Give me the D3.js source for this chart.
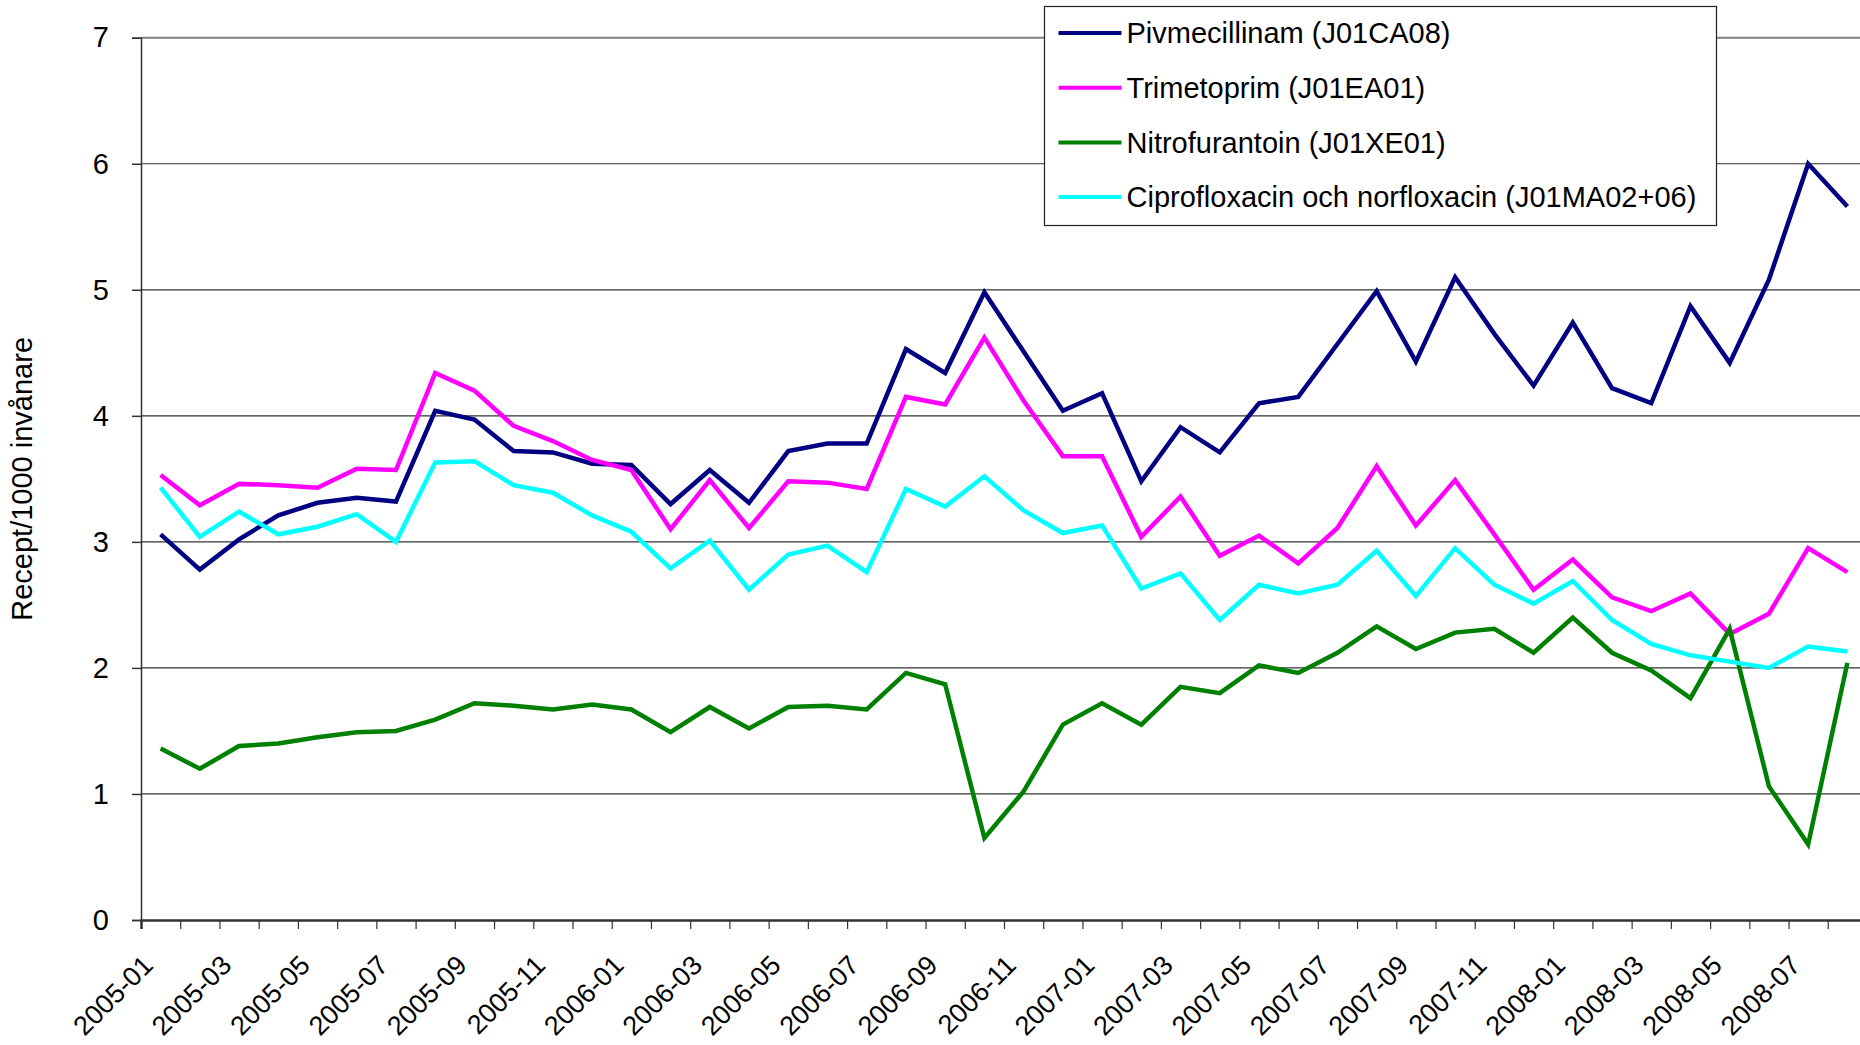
<!DOCTYPE html>
<html>
<head>
<meta charset="utf-8">
<script src="https://cdn.jsdelivr.net/npm/d3@7"></script>
<style>
  body { margin: 0; background: #fff; }
  .chart { display: block; font-family: "Liberation Sans", Arial, sans-serif; }
  .axis text { font-family: "Liberation Sans", Arial, sans-serif; fill: #000; }
</style>
</head>
<body>
<svg class="chart" width="1860" height="1045"></svg>
<script>
// månader, 2005-01 .. 2008-08
var months = ['2005-01','2005-02','2005-03','2005-04','2005-05','2005-06','2005-07','2005-08','2005-09','2005-10','2005-11','2005-12',
              '2006-01','2006-02','2006-03','2006-04','2006-05','2006-06','2006-07','2006-08','2006-09','2006-10','2006-11','2006-12',
              '2007-01','2007-02','2007-03','2007-04','2007-05','2007-06','2007-07','2007-08','2007-09','2007-10','2007-11','2007-12',
              '2008-01','2008-02','2008-03','2008-04','2008-05','2008-06','2008-07','2008-08'];

var monthLabels = months.filter(function(d, i) { return i % 2 === 0; });

var yTicks = [0, 1, 2, 3, 4, 5, 6, 7];

var pivmecillinam = [3.06, 2.78, 3.02, 3.21, 3.31, 3.35, 3.32, 4.04, 3.97, 3.72, 3.71, 3.62,
                     3.61, 3.30, 3.57, 3.31, 3.72, 3.78, 3.78, 4.53, 4.34, 4.98, 4.51, 4.04,
                     4.18, 3.48, 3.91, 3.71, 4.10, 4.15, 4.57, 4.99, 4.43, 5.10, 4.65, 4.24,
                     4.74, 4.22, 4.10, 4.87, 4.42, 5.08, 6.00, 5.66];

var trimetoprim = [3.53, 3.29, 3.46, 3.45, 3.43, 3.58, 3.57, 4.34, 4.20, 3.92, 3.80, 3.65,
                   3.57, 3.10, 3.49, 3.11, 3.48, 3.47, 3.42, 4.15, 4.09, 4.62, 4.12, 3.68,
                   3.68, 3.04, 3.36, 2.89, 3.05, 2.83, 3.11, 3.60, 3.13, 3.49, 3.06, 2.62,
                   2.86, 2.56, 2.45, 2.59, 2.27, 2.43, 2.95, 2.76];

var nitrofurantoin = [1.36, 1.20, 1.38, 1.40, 1.45, 1.49, 1.50, 1.59, 1.72, 1.70, 1.67, 1.71,
                      1.67, 1.49, 1.69, 1.52, 1.69, 1.70, 1.67, 1.96, 1.87, 0.65, 1.02, 1.55,
                      1.72, 1.55, 1.85, 1.80, 2.02, 1.96, 2.12, 2.33, 2.15, 2.28, 2.31, 2.12,
                      2.40, 2.12, 1.98, 1.76, 2.31, 1.06, 0.60, 2.04];

var kinoloner = [3.43, 3.04, 3.24, 3.06, 3.12, 3.22, 3.00, 3.63, 3.64, 3.45, 3.39, 3.21,
                 3.08, 2.79, 3.01, 2.62, 2.90, 2.97, 2.76, 3.42, 3.28, 3.52, 3.25, 3.07,
                 3.13, 2.63, 2.75, 2.38, 2.66, 2.59, 2.66, 2.93, 2.57, 2.95, 2.66, 2.51,
                 2.69, 2.38, 2.19, 2.10, 2.05, 2.00, 2.17, 2.13];

var seriesNames = ['Pivmecillinam (J01CA08)', 'Trimetoprim (J01EA01)', 'Nitrofurantoin (J01XE01)', 'Ciprofloxacin och norfloxacin (J01MA02+06)'];
var seriesColors = ['#000080', '#ff00ff', '#008000', '#00ffff'];
var seriesValues = [pivmecillinam, trimetoprim, nitrofurantoin, kinoloner];

var margin = { top: 37.7, left: 141 },
    width = 1726,     // plotytan går lite utanför bilden till höger
    height = 882.3;

var svg = d3.select(".chart");
var g = svg.append("g").attr("transform", "translate(" + margin.left + "," + margin.top + ")");

var x = d3.scaleBand()
    .domain(months)
    .range([0, width]);

var xEdge = d3.scaleLinear()  // kategorigränser för tickmarkeringar
    .domain([0, months.length])
    .range([0, width]);

var y = d3.scaleLinear()
    .domain([0, 7])
    .range([height, 0]);

// stödlinjer
g.append("g")
  .selectAll("line")
  .data(yTicks.filter(function(d) { return d > 0; }))
  .enter().append("line")
    .attr("x1", 0)
    .attr("x2", width)
    .attr("y1", function(d) { return y(d); })
    .attr("y2", function(d) { return y(d); })
    .attr("stroke", function(d) { return d === 7 ? "#808080" : "#333"; })
    .attr("stroke-width", function(d) { return d === 7 ? 2 : 1.2; });

// y-axel
var yAxis = g.append("g")
  .attr("class", "axis axis--y")
  .call(d3.axisLeft(y).tickValues(yTicks).tickSize(9).tickPadding(23).tickFormat(d3.format("d")));
yAxis.selectAll("text").style("font-size", "29px");
yAxis.selectAll("line,path").attr("stroke", "#333").attr("stroke-width", 1.5);

// x-axel: tickmarkeringar vid kategorigränser
var xTickAxis = g.append("g")
  .attr("class", "axis axis--x")
  .attr("transform", "translate(0," + height + ")")
  .call(d3.axisBottom(xEdge).tickValues(d3.range(months.length + 1)).tickSize(9).tickFormat(""));
xTickAxis.select("path").attr("stroke", "#333").attr("stroke-width", 2.5);
xTickAxis.selectAll("line").attr("stroke", "#333").attr("stroke-width", 1.2);

// x-axel: etiketter varannan månad, roterade
var xLabelAxis = g.append("g")
  .attr("class", "axis axis--x-labels")
  .attr("transform", "translate(0," + height + ")")
  .call(d3.axisBottom(x).tickValues(monthLabels).tickSize(0));
xLabelAxis.select("path").remove();
xLabelAxis.selectAll("text")
  .style("font-size", "27px")
  .style("text-anchor", "end")
  .attr("x", 0)
  .attr("y", 0)
  .attr("dy", "0")
  .attr("transform", "translate(-6,47) rotate(-45)");

// y-axelns titel
g.append("text")
  .attr("transform", "rotate(-90)")
  .attr("x", -height / 2)
  .attr("y", 32 - margin.left)
  .style("text-anchor", "middle")
  .style("font-size", "29px")
  .text("Recept/1000 invånare");

// linjerna
var line = d3.line()
  .x(function(d, i) { return x(months[i]) + x.bandwidth() / 2; })
  .y(function(d) { return y(d); });

g.selectAll(".serie")
  .data(seriesValues)
  .enter().append("path")
    .attr("class", "serie")
    .attr("fill", "none")
    .attr("stroke", function(d, i) { return seriesColors[i]; })
    .attr("stroke-width", 4.5)
    .attr("stroke-linejoin", "miter")
    .attr("d", line);

// förklaring
var legend = svg.append("g").attr("transform", "translate(1044.5,6.5)");

legend.append("rect")
  .attr("width", 672)
  .attr("height", 219)
  .attr("fill", "#fff")
  .attr("stroke", "#222")
  .attr("stroke-width", 1.2);

var item = legend.selectAll(".item")
  .data(seriesNames)
  .enter().append("g")
    .attr("class", "item")
    .attr("transform", function(d, i) { return "translate(0," + (26.5 + i * 54.7) + ")"; });

item.append("line")
  .attr("x1", 14)
  .attr("x2", 77)
  .attr("stroke", function(d, i) { return seriesColors[i]; })
  .attr("stroke-width", 4);

item.append("text")
  .attr("x", 82)
  .attr("dy", "0.35em")
  .style("font-size", "29px")
  .text(function(d) { return d; });
</script>
</body>
</html>
